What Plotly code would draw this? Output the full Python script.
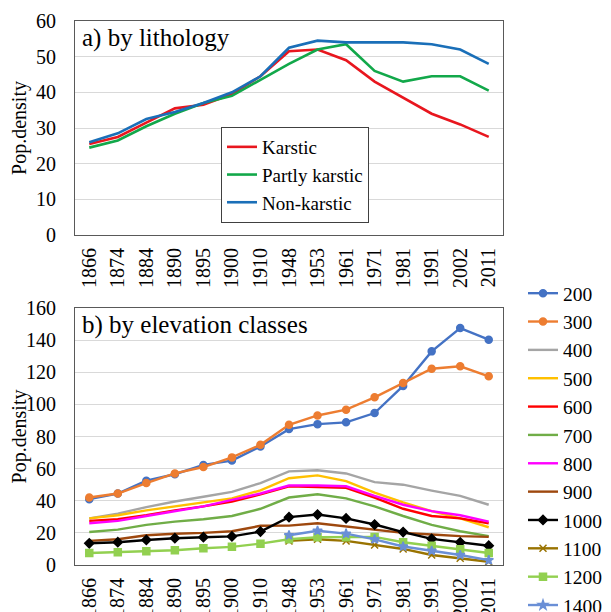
import plotly.graph_objects as go
from plotly.subplots import make_subplots

years = ["1866", "1874", "1884", "1890", "1895", "1900", "1910", "1948",
         "1953", "1961", "1971", "1981", "1991", "2002", "2011"]

# a) by lithology
karstic = [25.5, 27.5, 31.5, 35.5, 36.5, 39.5, 44.5, 51.5, 52, 49, 43, 38.5, 34, 31, 27.5]
partly_karstic = [24.5, 26.5, 30.5, 34, 37, 39, 43.5, 48, 52, 53.5, 46, 43, 44.5, 44.5, 40.5]
non_karstic = [26, 28.5, 32.5, 34.5, 37, 40, 44.5, 52.5, 54.5, 54, 54, 54, 53.5, 52, 48]

# b) by elevation classes
elev_200 = [41, 44.5, 52.5, 56.5, 62.3, 65, 73.8, 84.6, 87.7, 88.8, 94.6, 111.5, 133, 147.5, 140.3]
elev_300 = [42, 44.5, 51, 57, 61, 67, 74.8, 87.3, 93.1, 96.7, 104.4, 113.3, 122.2, 123.7, 117.5]
elev_400 = [29, 32, 36, 39.5, 42.5, 45.5, 51, 58.3, 59, 57, 51.6, 50, 46.3, 43, 37.5]
elev_500 = [29, 31, 34, 36.5, 39, 41.5, 46.5, 54, 55.8, 52.2, 45, 39, 33.5, 29, 23.5]
elev_600 = [27.5, 28.5, 31, 34, 36.5, 39.5, 44, 49, 48.5, 48, 42, 35, 30.5, 29, 26]
elev_700 = [20.5, 22, 25, 27, 28.5, 30.5, 35, 42, 44, 41.5, 36.5, 30.5, 25, 21, 18]
elev_800 = [26, 27.5, 30.5, 33.5, 36.5, 40.5, 44.5, 49.5, 49.5, 49, 43, 37.5, 33.5, 31, 27]
elev_900 = [15, 16, 18.5, 19.5, 20, 21, 24.4, 24.5, 26, 24, 22, 20, 19, 18, 17.5]
elev_1000 = [13.5, 14.2, 15.6, 16.7, 17.3, 17.8, 20.8, 29.8, 31.4, 29, 25.2, 20.5, 16.3, 14.1, 12]
elev_1100 = [None, None, None, None, None, None, None, 15, 16, 15, 12.5, 10, 6.2, 4.2, 2]
elev_1200 = [7.5, 8, 8.5, 9.2, 10.4, 11.3, 13.3, 16, 17.3, 17.3, 17.5, 14.2, 12, 9.8, 7.5]
elev_1400 = [None, None, None, None, None, None, None, 18.5, 21.3, 19.5, 16, 11.5, 8.8, 6.2, 3]

litho = [("Karstic", karstic, "#E8161E"),
         ("Partly karstic", partly_karstic, "#12A84A"),
         ("Non-karstic", non_karstic, "#1A6FB8")]

elev = [("200", elev_200, "#4472C4", "circle"),
        ("300", elev_300, "#ED7D31", "circle"),
        ("400", elev_400, "#A5A5A5", None),
        ("500", elev_500, "#FFC000", None),
        ("600", elev_600, "#FF0000", None),
        ("700", elev_700, "#70AD47", None),
        ("800", elev_800, "#FF00FF", None),
        ("900", elev_900, "#9E480E", None),
        ("1000", elev_1000, "#000000", "diamond"),
        ("1100", elev_1100, "#997300", "x-thin-open"),
        ("1200", elev_1200, "#92D050", "square"),
        ("1400", elev_1400, "#6A8FD6", "star")]

serif = "Liberation Serif"
W, H = 611, 612
OFF = 8  # page body margin


def px(x):
    return (x - OFF) / W


def py(y):
    return 1 - (y - OFF) / H


fig = make_subplots(rows=2, cols=1)

for name, vals, col in litho:
    fig.add_trace(go.Scatter(x=years, y=vals, name=name, mode="lines",
                             line=dict(color=col, width=2.6),
                             legend="legend"), row=1, col=1)

for name, vals, col, sym in elev:
    if sym:
        mk = dict(symbol=sym, size=7, color=col, line=dict(color=col, width=1.5))
        fig.add_trace(go.Scatter(x=years, y=vals, name=name, mode="lines+markers",
                                 line=dict(color=col, width=2.4), marker=mk,
                                 legend="legend2"), row=2, col=1)
    else:
        fig.add_trace(go.Scatter(x=years, y=vals, name=name, mode="lines",
                                 line=dict(color=col, width=2.4),
                                 legend="legend2"), row=2, col=1)

axis_common = dict(showline=True, mirror=True, linecolor="#595959", linewidth=1,
                   automargin=False,
                   tickfont=dict(family=serif, size=20, color="#000000"))

fig.update_xaxes(**axis_common, type="category", tickangle=-90, showgrid=False,
                 range=[-0.5, 14.5], ticks="", domain=[px(75), px(503)], ticklabelstandoff=4)
fig.update_yaxes(**axis_common, showgrid=True, gridcolor="#D9D9D9", gridwidth=1,
                 zeroline=False, ticks="", ticklabelstandoff=14,
                 title=dict(text="Pop.density", font=dict(family=serif, size=20, color="#000000"),
                            standoff=4))

fig.update_yaxes(range=[0, 60], dtick=10, domain=[py(235), py(21)], row=1, col=1)
fig.update_yaxes(range=[0, 160], dtick=20, domain=[py(565), py(308)], row=2, col=1)

fig.update_layout(
    width=W, height=H,
    margin=dict(l=0, r=0, t=0, b=0, autoexpand=False),
    plot_bgcolor="white", paper_bgcolor="white",
    font=dict(family=serif, color="#000000"),
    legend=dict(x=px(221), y=py(127), xanchor="left", yanchor="top",
                bgcolor="white", bordercolor="#404040", borderwidth=1,
                font=dict(family=serif, size=19, color="#000000"),
                tracegroupgap=0, itemwidth=30),
    legend2=dict(x=px(523), y=py(274), xanchor="left", yanchor="top",
                 bgcolor="rgba(0,0,0,0)", borderwidth=0,
                 font=dict(family=serif, size=19.5, color="#000000"),
                 tracegroupgap=0, itemwidth=30),
    annotations=[
        dict(text="a) by lithology", x=px(80), y=py(22), xref="paper", yref="paper",
             xanchor="left", yanchor="top", showarrow=False,
             font=dict(family=serif, size=25, color="#000000")),
        dict(text="b) by elevation classes", x=px(80), y=py(309), xref="paper", yref="paper",
             xanchor="left", yanchor="top", showarrow=False,
             font=dict(family=serif, size=25, color="#000000")),
    ],
)

fig.write_html("out.html")
